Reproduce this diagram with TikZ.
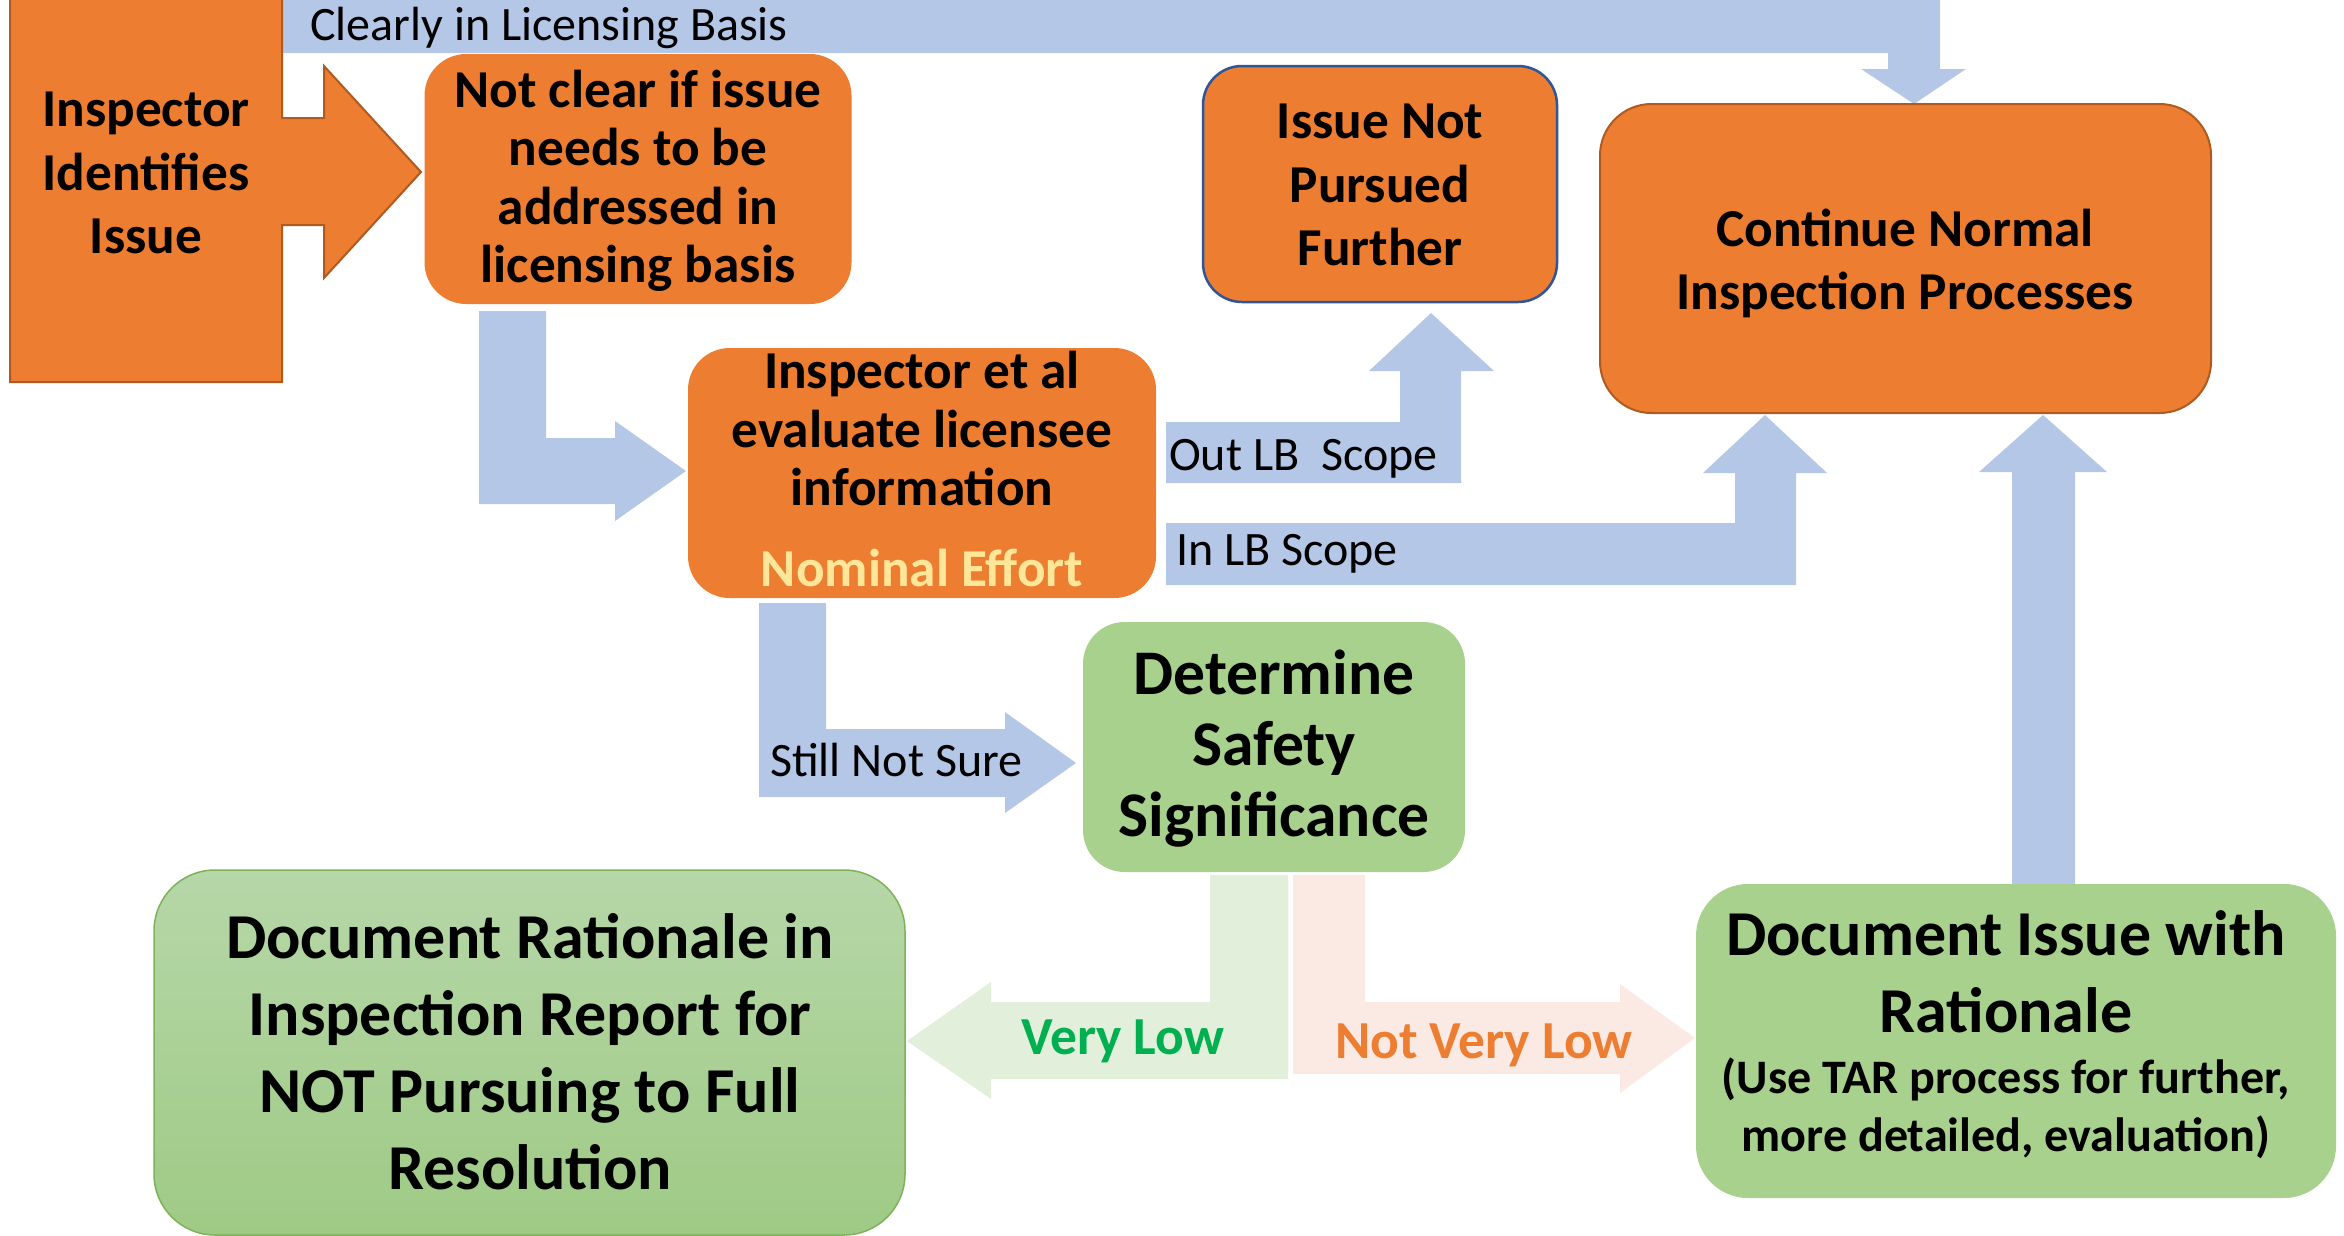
\documentclass[tikz,border=0pt]{standalone}
\usepackage{fontspec}
\setmainfont{Carlito}
\definecolor{orng}{HTML}{ED7D31}
\definecolor{orngdark}{HTML}{AE5A21}
\definecolor{blu}{HTML}{B4C7E7}
\definecolor{grn}{HTML}{A9D18E}
\definecolor{grntop}{HTML}{B6D7A8}
\definecolor{grnbot}{HTML}{9FCA85}
\definecolor{grnline}{HTML}{7DB25A}
\definecolor{ltgrn}{HTML}{E2EFDA}
\definecolor{ltpink}{HTML}{FBE9E4}
\definecolor{navy}{HTML}{2F5597}
\definecolor{nomc}{HTML}{FFE699}
\definecolor{vlgreen}{HTML}{00B050}
\begin{document}
\begin{tikzpicture}[x=1pt,y=-1pt,
  boxnode/.style={inner sep=0pt, outer sep=0pt},
  lbl/.style={inner sep=0pt, anchor=base west, font=\fontsize{48}{58}\selectfont},
  btxt/.style={inner sep=0pt, align=center, font=\bfseries\fontsize{53.3}{#1}\selectfont},
  ctxt/.style={inner sep=0pt, align=center, font=\bfseries\fontsize{63.6}{71}\selectfont},
  dtxt/.style={inner sep=0pt, align=center, font=\bfseries\fontsize{64}{77}\selectfont},
  stxt/.style={inner sep=0pt, align=center, font=\bfseries\fontsize{48.1}{58}\selectfont},
  blockarrow/.style={fill=blu},
]
\useasboundingbox (0,0) rectangle (2344,1235);
\clip (0,0) rectangle (2344,1235);

% ---------- block arrows (drawn first) ----------
% Clearly in Licensing Basis
\fill[blockarrow] (282,-5) -- (1940,-5) -- (1940,69) -- (1966,69) -- (1914,104)
  -- (1861,69) -- (1888,69) -- (1888,53) -- (282,53) -- cycle;
% Not clear -> Inspector et al
\fill[blockarrow] (479,311) -- (546,311) -- (546,438) -- (615,438) -- (615,421)
  -- (686,471) -- (615,521) -- (615,504) -- (479,504) -- cycle;
% Out LB Scope
\fill[blockarrow] (1166,422) -- (1400,422) -- (1400,371) -- (1369,371) -- (1431,313)
  -- (1494,371) -- (1461,371) -- (1461,483) -- (1166,483) -- cycle;
% In LB Scope
\fill[blockarrow] (1166,523) -- (1735,523) -- (1735,473) -- (1703,473) -- (1765,415)
  -- (1827,473) -- (1796,473) -- (1796,585) -- (1166,585) -- cycle;
% Still Not Sure
\fill[blockarrow] (759,603) -- (826,603) -- (826,729) -- (1005,729) -- (1005,712)
  -- (1076,763) -- (1005,813) -- (1005,797) -- (759,797) -- cycle;
% Very Low
\fill[ltgrn] (1210,875) -- (1288,875) -- (1288,1079) -- (991,1079) -- (991,1099)
  -- (907,1041) -- (991,982) -- (991,1002) -- (1210,1002) -- cycle;
% Not Very Low
\fill[ltpink] (1293,875) -- (1365,875) -- (1365,1002) -- (1620,1002) -- (1620,984)
  -- (1695,1038) -- (1620,1093) -- (1620,1074) -- (1293,1074) -- cycle;
% Document Issue -> Continue
\fill[blockarrow] (2012,884) -- (2012,472) -- (1979,472) -- (2043,415) -- (2107,472)
  -- (2075,472) -- (2075,884) -- cycle;

% ---------- Inspector callout ----------
\draw[fill=orng, draw=orngdark, line width=2pt] (10,-5) -- (282,-5) -- (282,118)
  -- (324,118) -- (324,66) -- (421,172) -- (324,278) -- (324,225) -- (282,225)
  -- (282,382) -- (10,382) -- cycle;
\node[btxt=63.5] (ii) at (146,173) {Inspector\\Identifies\\Issue};

% ---------- boxes ----------
\node[boxnode, fill=orng, minimum width=427pt, minimum height=250pt, rounded corners=41.7pt] (nc) at (638,179) {};
\node[btxt=58.5] (nct) at (638,181) {Not clear if issue\\needs to be\\addressed in\\licensing basis};

\node[boxnode, fill=orng, minimum width=468pt, minimum height=250pt, rounded corners=41.7pt] (ie) at (922,473) {};
\node[btxt=58.5] (iet) at (922,469) {Inspector et al\\evaluate licensee\\information\\[22.5pt]\color{nomc}Nominal Effort};

\node[boxnode, fill=orng, draw=navy, line width=2.5pt, minimum width=354pt, minimum height=236pt, rounded corners=39pt] (inp) at (1380,184) {};
\node[btxt=63.5] (inpt) at (1380,185) {Issue Not\\Pursued\\Further};

\node[boxnode, fill=orng, draw=orngdark, line width=2pt, minimum width=611pt, minimum height=309pt, rounded corners=51.5pt] (cn) at (1905.5,258.5) {};
\node[btxt=63] (cnt) at (1905,263.7) {Continue Normal\\Inspection Processes};

\node[boxnode, fill=grn, minimum width=382pt, minimum height=250pt, rounded corners=41.7pt] (ds) at (1274,747) {};
\node[ctxt] (dst) at (1274,749) {Determine\\Safety\\Significance};

\node[boxnode, top color=grntop, bottom color=grnbot, draw=grnline, line width=1.5pt, minimum width=751pt, minimum height=365pt, rounded corners=61pt] (dr) at (529.5,1052.5) {};
\node[dtxt] (drt) at (530,1052) {Document Rationale in\\Inspection Report for\\NOT Pursuing to Full\\Resolution};

\node[boxnode, fill=grn, minimum width=640pt, minimum height=314pt, rounded corners=52pt] (di) at (2016,1041) {};
\node[dtxt] (dit) at (2006,972) {Document Issue with\\Rationale};
\node[stxt] (dis) at (2006,1108) {(Use TAR process for further,\\more detailed, evaluation)};

% ---------- connector labels ----------
\node[lbl] (lcl) at (310,40) {Clearly in Licensing Basis};
\node[lbl] (lout) at (1169,470) {Out LB\ \ Scope};
\node[lbl] (lin) at (1176,565) {In LB Scope};
\node[lbl] (lsns) at (770,776) {Still Not Sure};
\node[lbl, font=\bfseries\fontsize{53.5}{58}\selectfont, text=vlgreen] (lvl) at (1021,1054) {Very Low};
\node[lbl, font=\bfseries\fontsize{53.5}{58}\selectfont, text=orng] (lnvl) at (1335,1058) {Not Very Low};
\end{tikzpicture}
\end{document}
